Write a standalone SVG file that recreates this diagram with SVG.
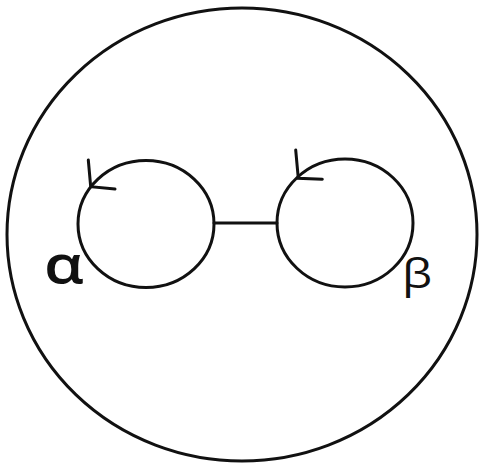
<svg xmlns="http://www.w3.org/2000/svg" width="480" height="463" viewBox="0 0 480 463">
<style>
.ln{fill:none;stroke:#111;stroke-width:3;stroke-linecap:round}
.lb{font-family:"Open Sans","DejaVu Sans",sans-serif;fill:#111}
</style>
<rect width="480" height="463" fill="#fff"/>
<g id="outer"><ellipse class="ln" cx="242" cy="234.5" rx="235" ry="226.5"/></g>
<g id="alpha-loop">
<ellipse class="ln" cx="146" cy="224" rx="68" ry="63.5"/>
<path class="ln" d="M88.3 160 L90.7 186.7 L115 189"/>
<text class="lb" transform="translate(44 283) scale(1.22 1)" font-size="52" font-weight="600">α</text>
</g>
<g id="beta-loop">
<ellipse class="ln" cx="345" cy="223" rx="68" ry="64"/>
<path class="ln" d="M295.7 150 L298.3 178.3 L322.3 179.3"/>
<text class="lb" transform="translate(402 288) scale(1.2 1)" font-size="40">β</text>
</g>
<g id="connectors">
<line class="ln" x1="214" y1="223" x2="277" y2="223"/>
</g>
</svg>
